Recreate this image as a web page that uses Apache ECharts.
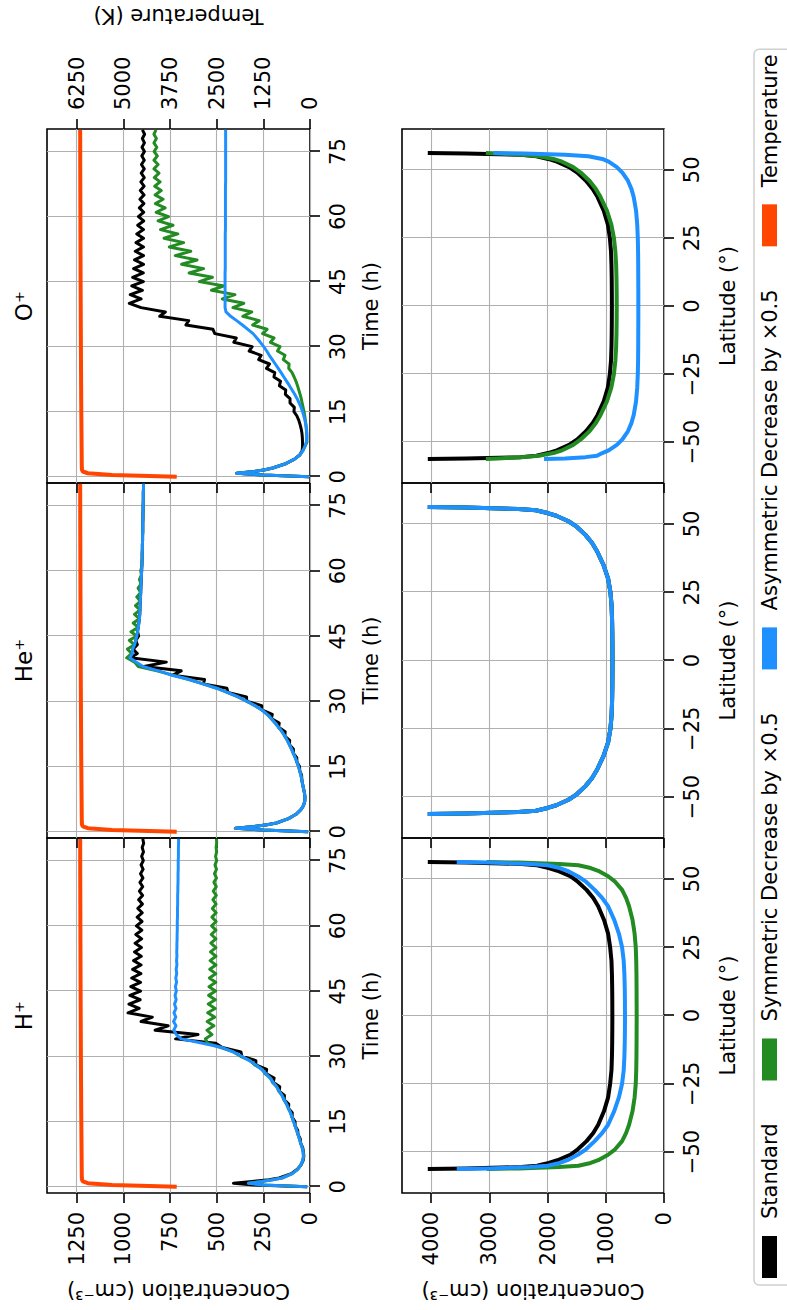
<!DOCTYPE html>
<html><head><meta charset="utf-8">
<script src="https://cdn.jsdelivr.net/npm/echarts@6/dist/echarts.min.js"></script>
<style>
html,body{margin:0;padding:0;background:#fff;overflow:hidden;}
#wrap{position:absolute;left:0;top:0;width:787px;height:1310px;overflow:hidden;background:#fff;}
#chart{position:absolute;left:0;top:0;width:1310px;height:787px;transform-origin:0 0;transform:translate(0px,1310px) rotate(-90deg);}
</style></head><body><div id="wrap"><div id="chart"></div></div>
<script>
// ---------- data ----------
const PANEL_TITLES = ['H\u207A', 'He\u207A', 'O\u207A'];
const SERIES_NAMES = ['Standard', 'Symmetric Decrease by \u00D70.5', 'Asymmetric Decrease by \u00D70.5', 'Temperature'];
const TIME_TICKS = [0, 15, 30, 45, 60, 75];
const LAT_TICKS = [-50, -25, 0, 25, 50];
const CONC_TICKS_TOP = [0, 250, 500, 750, 1000, 1250];
const CONC_TICKS_BOT = [0, 1000, 2000, 3000, 4000];
const TEMP_TICKS = [0, 1250, 2500, 3750, 5000, 6250];

const TIME = [0,0.4,0.8,1.2,1.6,2,
 3,4,5,6,7,8,9,10,11,12,
 13,14,15,16,17,18,19,20,21,22,
 23,24,25,26,27,28,29,30,31,32,
 33,34,35,36,37,38,39,40,41,42,
 43,44,45,46,47,48,49,50,51,52,
 53,54,55,56,57,58,59,60,61,62,
 63,64,65,66,67,68,69,70,71,72,
 73,74,75,76,77,78,79,80];

const HP_STD = [15,300,410,310,220,165,
 100,68,48,37,33,35,39,50,52,64,
 66,80,80,96,95,115,114,138,137,165,
 162,197,192,236,232,290,290,365,370,470,
 505,720,600,830,760,905,845,975,915,970,
 910,965,908,960,908,955,906,950,905,945,
 904,940,903,937,902,933,901,930,900,926,
 899,922,898,918,897,914,896,911,895,908,
 894,905,893,902,892,899,891,896];
const HP_SYM = [15,250,330,260,200,150,
 95,66,49,39,35,37,42,50,57,64,
 72,80,88,97,104,116,125,140,149,168,
 177,201,211,241,255,296,320,372,410,478,
 548,560,525,552,515,551,511,548,508,545,
 507,543,506,541,505,539,505,537,504,535,
 504,533,504,531,504,529,504,527,503,525,
 503,523,503,520,502,518,502,515,501,512,
 501,509,500,506,500,503,500,501];
const HP_ASYM = [15,250,330,260,200,150,
 95,66,49,39,35,37,42,50,57,64,
 72,80,88,96,105,115,126,138,151,165,
 180,197,215,236,260,290,325,365,412,470,
 575,690,716,730,718,731,719,729,718,726,
 717,723,716,721,715,719,714,717,713,715,
 713,714,713,713,712,712,711,711,711,710,
 710,710,709,709,709,708,708,707,707,707,
 706,706,706,705,705,705,704,704];

const HE_STD = [10,250,400,300,230,180,
 115,75,50,35,28,27,30,35,40,44,
 45,55,56,70,71,89,89,110,109,135,
 133,168,165,207,202,258,259,339,340,440,
 445,571,565,735,690,890,770,962,925,948,
 925,933,918,924,920,917,914,912,911,910,
 909,908,907,906,905,904,903,902,901,900,
 899,899,898,898,897,897,896,896,896,895,
 895,894,894,893,893,893,892,892];
const HE_SYM = [10,250,400,300,230,180,
 115,75,50,35,28,27,30,35,40,44,
 49,55,62,70,79,89,99,110,122,135,
 150,168,187,207,230,258,295,339,385,440,
 500,571,650,735,820,920,940,982,955,978,
 940,968,928,959,920,947,914,940,911,935,
 909,928,907,921,905,914,903,907,901,900,
 899,899,898,898,897,897,896,896,896,895,
 895,894,894,893,893,893,892,892];
const HE_ASYM = [10,250,400,300,230,180,
 115,75,50,35,28,27,30,35,40,44,
 49,55,62,70,79,89,99,110,122,135,
 150,168,187,207,230,258,295,339,385,440,
 500,575,645,740,812,895,930,965,952,950,
 940,933,928,924,920,917,914,912,911,910,
 909,908,907,906,905,904,903,902,901,900,
 899,899,898,898,897,897,896,896,896,895,
 895,894,894,893,893,893,892,892];

const OP_STD = [5,250,393,300,240,200,
 130,85,55,42,40,40,41,43,47,53,
 60,70,86,84,107,107,132,130,164,158,
 193,189,233,217,275,262,326,310,408,395,
 510,520,665,650,805,775,905,968,905,963,
 898,955,893,950,893,945,892,940,892,936,
 892,932,892,928,892,923,891,919,891,914,
 890,911,889,909,889,906,888,904,888,903,
 888,901,887,900,887,898,886,898];
const OP_SYM = [5,250,393,300,240,200,
 130,85,55,38,27,16,17,18,20,22,
 25,28,32,37,42,47,53,60,67,75,
 85,96,114,112,143,134,174,161,212,193,
 254,230,307,272,360,312,413,355,470,402,
 528,460,593,523,648,570,688,605,722,639,
 754,677,782,708,801,734,814,758,824,776,
 828,787,830,797,832,803,834,809,836,814,
 836,818,835,821,836,823,836,825];
const OP_ASYM = [5,250,393,300,240,200,
 130,85,55,38,27,20,17,17,18,22,
 27,33,40,48,58,69,82,96,110,125,
 140,155,170,186,202,218,232,248,266,285,
 305,333,362,393,425,450,455,455,455,455,
 455,455,455,455,455,454,454,454,454,454,
 454,454,454,454,453,453,453,453,453,453,
 453,453,453,453,453,452,452,452,452,452,
 452,452,452,452,452,452,452,452];

const TEMP = [3570,5300,5950,6085,6108,6112,
 6114,6115,6116,6117,6118,6119,6120,6121,6122,6123,
 6124,6125,6126,6127,6128,6129,6130,6130,6131,6132,
 6132,6133,6134,6134,6135,6136,6136,6137,6138,6138,
 6139,6139,6140,6140,6141,6141,6142,6142,6143,6143,
 6144,6144,6145,6145,6146,6146,6146,6147,6147,6148,
 6148,6148,6149,6149,6150,6150,6150,6151,6151,6151,
 6152,6152,6152,6153,6153,6153,6154,6154,6154,6155,
 6155,6155,6155,6156,6156,6156,6156,6157];

const LAT = [-56.2,-56,-55.5,-55,-54,-53,-51,-49,-46,-43,-40,-35,-30,-25,-20,-15,-10,-5,0,5,10,15,20,25,30,35,40,43,46,49,51,53,54,55,55.5,56,56.2];

const HP_STD_LAT = [4057,3400,2450,2180,1980,1830,1610,1480,1330,1215,1130,1030,960,925,902,894,890,888,887,888,890,894,902,925,960,1030,1130,1215,1330,1480,1610,1830,1980,2180,2450,3400,4057];
const HP_SYM_LAT = [3044,2500,1800,1470,1260,1130,960,840,720,650,600,540,505,485,477,473,471,470,469,470,471,473,477,485,505,540,600,650,720,840,960,1130,1260,1470,1800,2500,3044];
const HP_ASYM_LAT = [3560,3000,2300,2000,1790,1660,1480,1340,1190,1060,960,855,775,720,692,680,674,671,670,671,674,680,692,720,775,855,960,1060,1190,1340,1480,1660,1790,2000,2300,3000,3560];
const HE_STD_LAT = [4057,3400,2500,2200,2000,1850,1640,1500,1350,1235,1150,1040,960,920,900,892,888,886,885,886,888,892,900,920,960,1040,1150,1235,1350,1500,1640,1850,2000,2200,2500,3400,4057];
const HE_SYM_LAT = [4057,3400,2500,2200,2000,1850,1640,1500,1350,1235,1150,1040,960,920,900,892,888,886,885,886,888,892,900,920,960,1040,1150,1235,1350,1500,1640,1850,2000,2200,2500,3400,4057];
const HE_ASYM_LAT = [4057,3400,2500,2200,2000,1850,1640,1500,1350,1235,1150,1040,960,920,900,892,888,886,885,886,888,892,900,920,960,1040,1150,1235,1350,1500,1640,1850,2000,2200,2500,3400,4057];
const OP_STD_LAT = [4057,3400,2460,2190,1990,1840,1630,1490,1340,1225,1140,1035,965,930,910,902,898,896,895,896,898,902,910,930,965,1035,1140,1225,1340,1490,1630,1840,1990,2190,2460,3400,4057];
const OP_SYM_LAT = [3060,2850,2450,2150,1900,1750,1560,1430,1280,1170,1090,980,905,860,835,822,816,813,812,813,816,822,835,860,905,980,1090,1170,1280,1430,1560,1750,1900,2150,2450,2850,3060];
const OP_ASYM_LAT = [2060,1700,1350,1150,1060,950,810,715,620,560,520,480,460,450,445,443,442,441,441,441,442,443,445,450,460,480,520,560,620,715,810,950,1060,1300,1700,2400,2930];

// ---------- layout / style ----------
const FONT = 'DejaVu Sans';
const COLORS = ['#000000', '#228b22', '#1e90ff', '#ff4500'];
const GRID_GRAY = '#b0b0b0';
const COLS = [{left:117, width:355}, {left:472, width:355}, {left:827, width:354}];
const ROW_TOP = {top:47, height:263};
const ROW_BOT = {top:402, height:262};

const TOP_DATA = [[HP_STD, HP_SYM, HP_ASYM], [HE_STD, HE_SYM, HE_ASYM], [OP_STD, OP_SYM, OP_ASYM]];
const BOT_DATA = [[HP_STD_LAT, HP_SYM_LAT, HP_ASYM_LAT], [HE_STD_LAT, HE_SYM_LAT, HE_ASYM_LAT], [OP_STD_LAT, OP_SYM_LAT, OP_ASYM_LAT]];

const txt = {fontFamily: FONT, fontSize: 21, color: '#000'};
const tickStyle = {color: '#000', width: 1.6};
const gridLine = {show: true, lineStyle: {color: GRID_GRAY, width: 1.1}};
const plain = v => String(v).replace('-', '\u2212');

const grids = [];
COLS.forEach(c => grids.push(Object.assign({left: c.left, width: c.width, show: true, borderColor: '#000', borderWidth: 1.6}, ROW_TOP)));
COLS.forEach(c => grids.push(Object.assign({left: c.left, width: c.width, show: true, borderColor: '#000', borderWidth: 1.6}, ROW_BOT)));

const xAxes = [];
for (let i = 0; i < 6; i++) {
  const isTime = i < 3;
  const ticks = isTime ? TIME_TICKS : LAT_TICKS;
  xAxes.push({
    type: 'value', gridIndex: i, position: 'bottom',
    min: isTime ? -1.45 : -65, max: isTime ? 80.2 : 65,
    name: isTime ? 'Time (h)' : 'Latitude (\u00B0)',
    nameLocation: 'middle', nameGap: isTime ? 50 : 53,
    nameTextStyle: txt,
    axisLine: {show: false, onZero: false},
    axisTick: {show: true, inside: false, length: 10, lineStyle: tickStyle, customValues: ticks},
    axisLabel: Object.assign({show: true, customValues: ticks, margin: 17, formatter: plain}, txt),
    splitLine: gridLine
  });
}

const yAxes = [];
for (let i = 0; i < 6; i++) {
  const isTop = i < 3;
  const col = i % 3;
  const ticks = isTop ? CONC_TICKS_TOP : CONC_TICKS_BOT;
  yAxes.push({
    type: 'value', gridIndex: i, position: 'left',
    min: 0, max: isTop ? 1409 : 4500,
    name: col === 0 ? 'Concentration (cm\u207B\u00B3)' : '',
    nameLocation: 'middle', nameGap: 87, nameRotate: 90,
    nameTextStyle: txt,
    axisLine: {show: false, onZero: false},
    axisTick: {show: true, inside: false, length: 10, lineStyle: tickStyle, customValues: ticks},
    axisLabel: Object.assign({show: col === 0, customValues: ticks, margin: 19, formatter: plain}, txt),
    splitLine: gridLine
  });
}
for (let i = 0; i < 3; i++) {
  yAxes.push({
    type: 'value', gridIndex: i, position: 'right', show: i === 2,
    min: 0, max: 7045,
    name: i === 2 ? 'Temperature (K)' : '',
    nameLocation: 'middle', nameGap: 103, nameRotate: 90,
    nameTextStyle: txt,
    axisLine: {show: false, onZero: false},
    axisTick: {show: true, inside: false, length: 10, lineStyle: tickStyle, customValues: TEMP_TICKS},
    axisLabel: Object.assign({show: true, customValues: TEMP_TICKS, margin: 19, formatter: plain}, txt),
    splitLine: {show: false}
  });
}

function line(name, color, xi, yi, xs, ys, w) {
  return {
    type: 'line', name, xAxisIndex: xi, yAxisIndex: yi,
    data: xs.map((x, k) => [x, ys[k]]),
    showSymbol: false, symbol: 'none', silent: true, clip: true,
    color: color,
    lineStyle: {color, width: w, join: 'round', cap: 'butt'},
    itemStyle: {color},
    emphasis: {disabled: true}
  };
}

const series = [];
for (let p = 0; p < 3; p++) {
  for (let s = 0; s < 3; s++) series.push(line(SERIES_NAMES[s], COLORS[s], p, p, TIME, TOP_DATA[p][s], 3));
  series.push(line(SERIES_NAMES[3], COLORS[3], p, 6 + p, TIME, TEMP, 4));
  for (let s = 0; s < 3; s++) series.push(line(SERIES_NAMES[s], COLORS[s], 3 + p, 3 + p, LAT, BOT_DATA[p][s], 4));
}

const graphic = PANEL_TITLES.map((t, i) => ({
  type: 'text',
  x: COLS[i].left + COLS[i].width / 2, y: 23.7,
  style: {text: t, font: '23px "DejaVu Sans"', fill: '#000', textAlign: 'center', textVerticalAlign: 'middle', align: 'center', verticalAlign: 'middle'}
}));

const chart = echarts.init(document.getElementById('chart'), null, {renderer: 'svg', width: 1310, height: 787});
chart.setOption({
  animation: false,
  backgroundColor: '#fff',
  grid: grids, xAxis: xAxes, yAxis: yAxes, series,
  graphic,
  legend: {
    data: SERIES_NAMES, left: 25, top: 754, orient: 'horizontal',
    icon: 'rect', itemWidth: 42, itemHeight: 15, itemGap: 43,
    padding: [5, 5, 30, 7],
    borderColor: '#d0d0d0', borderWidth: 1.5, borderRadius: 5,
    backgroundColor: 'rgba(255,255,255,0.8)',
    selectedMode: false,
    textStyle: {fontFamily: FONT, fontSize: 21, color: '#000', padding: [0, 0, 0, 12]}
  }
});
</script></body></html>
